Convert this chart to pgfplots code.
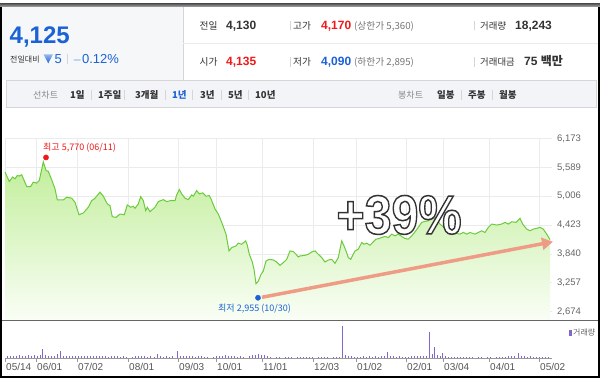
\documentclass[border=0pt]{standalone}
\usepackage{fontspec}
\setmainfont{Liberation Sans}
\newfontfamily\kr{Noto Sans CJK KR}
\usepackage{pgfplots}
\usepackage{pgfplotstable}
\pgfplotsset{compat=1.18}
\usetikzlibrary{arrows.meta}
\definecolor{upred}{HTML}{F01818}
\definecolor{dnblue}{HTML}{1A62D6}
\definecolor{txt}{HTML}{333333}
\definecolor{lgray}{HTML}{888888}
\definecolor{pgray}{HTML}{777777}
\definecolor{sepc}{HTML}{D6D6D6}
\definecolor{gridc}{HTML}{EBEBEB}
\definecolor{tickc}{HTML}{666666}
\definecolor{datec}{HTML}{555555}
\definecolor{linec}{HTML}{6CCB3C}
\definecolor{filltop}{HTML}{C2EE9C}
\definecolor{fillbot}{HTML}{FAFEF6}
\definecolor{arrowc}{HTML}{EF9C86}
\definecolor{volc}{HTML}{8366CC}
\definecolor{panelbg}{HTML}{F6F7F9}
\definecolor{toolbg}{HTML}{F3F4F7}
\definecolor{volaxis}{HTML}{999999}

\pgfplotstableread{
x y
5 5496
9.3 5304
12.7 5394
15 5359
17.3 5426
19.3 5414
21.7 5441
26.7 5203
30.7 5203
33.3 5292
36.7 5272
39.3 5325
43.3 5700
46 5528
48.3 5508
51.7 5339
55 5156
57.3 4932
63.3 4932
66.7 4987
71.7 4967
75 4885
79 4633
83.3 4668
88.3 4784
91.7 4918
94.3 4953
96.7 5007
100 5089
103.3 5007
107.3 4851
110 4816
112.3 4593
116 4580
120 4647
124.3 4633
127.3 4831
130.7 4784
133.3 4804
135 4763
138.3 4851
140.7 4999
143.3 4918
145.7 4715
147.3 4784
150 4694
155 4784
158.3 4898
163.3 4938
166.7 4898
170.7 4918
175 4918
176.7 5034
179.3 5142
181.7 5054
185 4967
188.3 4938
191.7 5034
193.3 5007
196.7 5121
199.3 5054
202.7 5075
206 5007
209.3 5020
211 4953
215 4749
218.3 4647
221.7 4479
226 4241
229 3901
231.7 3970
236 4003
238.3 4058
241.7 4037
245.7 4104
247.3 4017
249.3 3834
252.3 3677
254 3529
256 3238
258.3 3291
261 3427
263.3 3494
266 3698
269.3 3732
273.3 3718
276.7 3677
280 3610
283.3 3665
286.7 3732
290 3901
293.3 3889
296 3834
298.3 3779
300 3799
305 3814
308.3 3834
311.7 3881
315 3901
318.3 3834
321.7 3767
325 3677
328.3 3718
331.7 3732
335 3651
338.3 3767
341.7 4104
344 4003
346 3901
348.3 3767
350.7 3732
352.7 3814
355 3901
358.3 3936
361.7 4072
364 4037
366.7 4058
370 4017
373.3 4084
376 4139
379.3 4153
381.7 4173
385 4194
388.3 4173
391.7 4241
395 4206
398.3 4241
401.7 4194
405 4153
408.3 4139
411.7 4206
415 4287
418.3 4377
421.7 4479
425 4499
428.3 4511
431.7 4546
435 4560
440 4444
445 4360
450 4300
455 4261
460 4241
463.3 4275
466.7 4241
470 4275
475 4241
478.3 4275
481.7 4308
485 4275
488.3 4377
491.7 4444
496.7 4424
501.7 4444
505 4479
508.3 4444
511.7 4491
516 4479
520 4560
522.7 4444
526.7 4342
530 4308
533.3 4342
536.7 4357
540 4377
543.3 4342
546.7 4241
550 4130
}\pricedata

\pgfplotstableread{
x v
7 25
10 20
13 25
16 20
19 28
22 22
25 25
28 30
31 22
34 28
37 25
40 30
42 87
45 30
48 20
51 25
54 22
57 45
60 67
63 25
66 20
69 18
72 22
75 25
78 20
81 18
84 20
87 22
90 18
93 20
96 18
99 20
102 18
105 20
108 15
111 18
114 20
117 18
120 15
123 18
126 15
132 15
135 20
138 25
141 18
144 22
147 15
150 18
154 15
157 40
160 18
163 15
166 18
169 15
172 18
177 67
180 25
183 22
186 20
189 18
192 20
195 15
198 18
201 20
204 15
207 12
213 15
216 18
219 22
222 25
225 30
228 25
231 22
234 18
237 15
240 20
243 15
249 20
252 30
255 35
258 40
261 35
264 30
267 25
270 15
276 12
279 15
285 12
288 15
291 12
297 15
300 12
303 10
306 15
309 12
312 10
318 12
321 15
324 10
327 12
333 12
336 15
339 12
342 320
345 30
348 25
351 18
354 15
357 12
360 15
363 18
366 15
369 18
372 15
375 18
378 15
381 20
384 25
387 60
390 25
393 20
396 15
399 18
402 15
405 12
408 15
411 20
414 25
417 20
420 22
423 25
426 20
429 260
432 40
434 110
437 30
440 20
442 50
445 18
448 15
451 12
454 15
457 12
460 15
463 12
466 15
469 12
472 10
478 12
481 10
487 12
490 10
496 12
499 15
502 12
505 15
508 18
511 20
514 25
518 50
521 25
524 20
527 15
530 18
533 15
536 12
539 15
542 12
545 15
548 12
}\voldata

\begin{document}
\begin{tikzpicture}[x=1pt,y=1pt]
\path[use as bounding box] (0,0) rectangle (600,378);
\fill[white] (0,0) rectangle (600,378);
% header panels
\fill[panelbg] (1.8,298) rectangle (183,371.3);
\draw[sepc, line width=0.8pt] (183,298) -- (183,371.3);
\draw[gridc, line width=0.8pt] (183,335) -- (598.2,335);
\shade[top color=black!70, bottom color=black!35] (0,371.3) rectangle (600,374.8);
% toolbar
\filldraw[fill=toolbg, draw=sepc, line width=0.8pt] (6.5,270.7) rectangle (596.5,298);

% left header text
\node[anchor=base west, inner sep=0, text=dnblue, font=\fontsize{24}{24}\selectfont\bfseries] at (9.5,334.7) {4,125};
\node[anchor=base west, inner sep=0, text=txt, font=\kr\fontsize{8}{8}\selectfont] at (10,315) {전일대비};
\shade[top color=dnblue!45, bottom color=dnblue] (43.5,323.7) -- (53,323.7) -- (48.25,314.7) -- cycle;
\node[anchor=base west, inner sep=0, text=dnblue, font=\fontsize{13}{13}\selectfont] at (54.5,314) {5};
\draw[sepc, line width=0.8pt] (67.5,313.5) -- (67.5,323.5);
\node[anchor=base west, inner sep=0, text=dnblue, font=\fontsize{13}{13}\selectfont] at (72.5,314) {$-$0.12\%};

% right header rows
\node[anchor=base west, inner sep=0, text=txt, font=\kr\fontsize{9.7}{10}\selectfont] at (199.5,348.7) {전일};
\node[anchor=base west, inner sep=0, text=txt, font=\fontsize{12}{12}\selectfont\bfseries] at (226,348.7) {4,130};
\node[anchor=base west, inner sep=0, text=txt, font=\kr\fontsize{9.7}{10}\selectfont] at (293,348.7) {고가};
\node[anchor=base west, inner sep=0, text=upred, font=\fontsize{12}{12}\selectfont\bfseries] at (321,348.7) {4,170};
\node[anchor=base west, inner sep=0, text=pgray, font=\kr\fontsize{9.7}{10}\selectfont] at (354,348.7) {(상한가 5,360)};
\node[anchor=base west, inner sep=0, text=txt, font=\kr\fontsize{9.4}{10}\selectfont] at (480,348.7) {거래량};
\node[anchor=base west, inner sep=0, text=txt, font=\fontsize{12}{12}\selectfont\bfseries] at (515,348.7) {18,243};
\node[anchor=base west, inner sep=0, text=txt, font=\kr\fontsize{9.7}{10}\selectfont] at (199.5,312) {시가};
\node[anchor=base west, inner sep=0, text=upred, font=\fontsize{12}{12}\selectfont\bfseries] at (226,312) {4,135};
\node[anchor=base west, inner sep=0, text=txt, font=\kr\fontsize{9.7}{10}\selectfont] at (293,312) {저가};
\node[anchor=base west, inner sep=0, text=dnblue, font=\fontsize{12}{12}\selectfont\bfseries] at (321,312) {4,090};
\node[anchor=base west, inner sep=0, text=pgray, font=\kr\fontsize{9.7}{10}\selectfont] at (354,312) {(하한가 2,895)};
\node[anchor=base west, inner sep=0, text=txt, font=\kr\fontsize{9.4}{10}\selectfont] at (480,312) {거래대금};
\node[anchor=base west, inner sep=0, text=txt, font=\fontsize{12}{12}\selectfont\bfseries] at (524,312) {75 {\kr 백만}};
\foreach \xx in {290,474}{
  \draw[sepc, line width=0.8pt] (\xx,347.5) -- (\xx,357);
  \draw[sepc, line width=0.8pt] (\xx,311) -- (\xx,320.5);
}

% toolbar text
\node[anchor=base west, inner sep=0, text=lgray, font=\kr\fontsize{9}{9}\selectfont] at (33,279) {선차트};
\node[anchor=base west, inner sep=0, text=txt, font=\kr\bfseries\fontsize{9.5}{9.5}\selectfont] at (70,279) {1일};
\node[anchor=base west, inner sep=0, text=txt, font=\kr\bfseries\fontsize{9.5}{9.5}\selectfont] at (98,279) {1주일};
\node[anchor=base west, inner sep=0, text=txt, font=\kr\bfseries\fontsize{9.5}{9.5}\selectfont] at (135,279) {3개월};
\node[anchor=base west, inner sep=0, text=dnblue, font=\kr\bfseries\fontsize{9.5}{9.5}\selectfont] at (172,279) {1년};
\node[anchor=base west, inner sep=0, text=txt, font=\kr\bfseries\fontsize{9.5}{9.5}\selectfont] at (200,279) {3년};
\node[anchor=base west, inner sep=0, text=txt, font=\kr\bfseries\fontsize{9.5}{9.5}\selectfont] at (228,279) {5년};
\node[anchor=base west, inner sep=0, text=txt, font=\kr\bfseries\fontsize{9.5}{9.5}\selectfont] at (255,279) {10년};
\node[anchor=base west, inner sep=0, text=lgray, font=\kr\fontsize{9}{9}\selectfont] at (398,279) {봉차트};
\node[anchor=base west, inner sep=0, text=txt, font=\kr\bfseries\fontsize{9.5}{9.5}\selectfont] at (437,279) {일봉};
\node[anchor=base west, inner sep=0, text=txt, font=\kr\bfseries\fontsize{9.5}{9.5}\selectfont] at (468,279) {주봉};
\node[anchor=base west, inner sep=0, text=txt, font=\kr\bfseries\fontsize{9.5}{9.5}\selectfont] at (499,279) {월봉};
\foreach \xx in {91.7,124,165.7,192.7,221,248.3,461,492}{
  \draw[sepc, line width=0.8pt] (\xx,278) -- (\xx,288);
}

% price chart
\begin{axis}[
  at={(5pt,239.5pt)}, anchor=north west,
  scale only axis, width=547pt, height=181.5pt,
  xmin=5, xmax=552, ymin=2506, ymax=6173,
  clip=false,
  axis line style={draw=none},
  tick style={draw=none},
  xtick={5,36,77,128,178,216,262,313,356,406,443,489,539},
  xticklabels={},
  ytick={2674,3257,3840,4423,5006,5589,6173},
  yticklabels={{2,674},{3,257},{3,840},{4,423},{5,006},{5,589},{6,173}},
  yticklabel pos=right,
  yticklabel style={anchor=west, inner sep=0pt, xshift=5pt, font=\fontsize{9.5}{10}\selectfont, text=tickc},
  grid=major, major grid style={gridc, line width=0.8pt},
]
\addplot[draw=none, top color=filltop, bottom color=fillbot] table[x=x,y=y] {\pricedata} -- (axis cs:550,2506) -- (axis cs:5,2506) -- cycle;
\addplot[linec, line width=1pt] table[x=x,y=y] {\pricedata};
\addplot[arrowc, line width=3.5pt, -{Triangle[length=11pt,width=12pt]}] coordinates {(262,2965) (553,4088)};
\addplot[only marks, mark=*, mark size=2.6pt, upred] coordinates {(46,5790)};
\addplot[only marks, mark=*, mark size=2.6pt, dnblue] coordinates {(258,2955)};
\node[anchor=west, inner sep=0, text=upred, font=\kr\fontsize{9}{9}\selectfont] at (axis cs:43,5991) {최고 5,770 (06/11)};
\node[anchor=west, inner sep=0, text=dnblue, font=\kr\fontsize{9}{9}\selectfont] at (axis cs:218,2729) {최저 2,955 (10/30)};
\node[inner sep=0, text=white, font=\fontsize{55}{55}\selectfont\bfseries] at (axis cs:399,4628) {\scalebox{0.88}[1]{\special{pdf:code q 2 Tr 1.5 w 0.2 0.2 0.2 RG}+39\%\special{pdf:code Q}}};
\end{axis}

% separator above volume
\draw[black!60, line width=0.8pt] (1.8,57.3) -- (598.2,57.3);

% volume chart
\begin{axis}[
  at={(5pt,56pt)}, anchor=north west,
  scale only axis, width=547pt, height=36pt,
  xmin=5, xmax=552, ymin=0, ymax=360,
  axis x line*=bottom, axis y line=none,
  x axis line style={volaxis, line width=0.8pt},
  xtick={5,36,77,128,178,216,262,313,356,406,443,489,539},
  xticklabels={05/14,06/01,07/02,08/01,09/03,10/01,11/01,12/03,01/02,02/01,03/04,04/01,05/02},
  xtick align=outside, major tick length=4pt,
  xtick style={volaxis, line width=0.8pt},
  xticklabel style={anchor=north west, inner sep=0pt, yshift=-1pt, xshift=1pt, font=\fontsize{10}{10}\selectfont, text=datec},
]
\addplot[ycomb, volc, line width=0.8pt] table[x=x,y=v] {\voldata};
\end{axis}

% volume legend
\fill[volc] (569,42) rectangle (571.5,48);
\node[anchor=west, inner sep=0, text=tickc, font=\kr\fontsize{8}{8}\selectfont] at (573,45) {거래량};

% outer frame
\draw[black, line width=1.8pt] (0.9,371.3) -- (0.9,0.9) -- (599.1,0.9) -- (599.1,371.3);
\end{tikzpicture}
\end{document}
